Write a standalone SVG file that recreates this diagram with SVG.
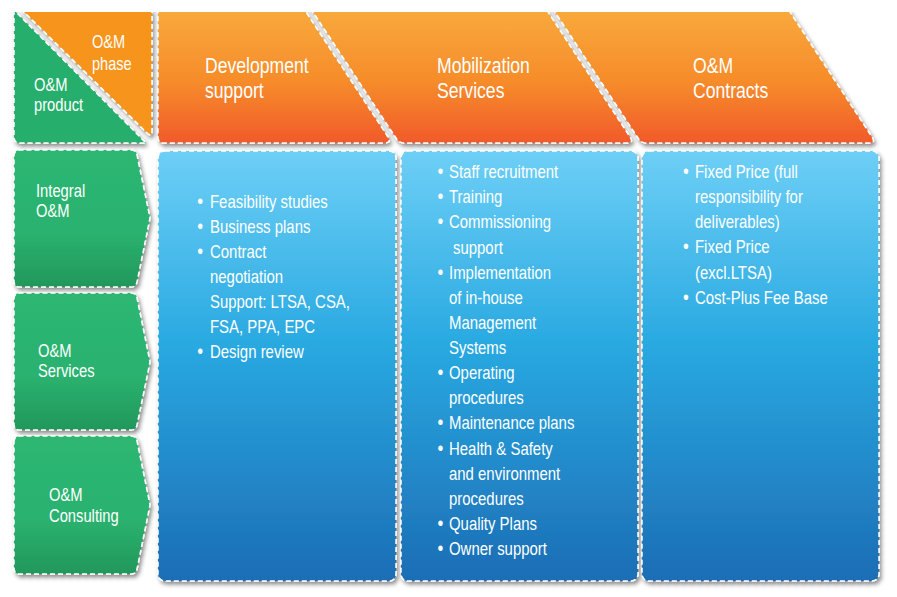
<svg xmlns="http://www.w3.org/2000/svg" width="897" height="597" viewBox="0 0 897 597">
<defs>
<linearGradient id="gOr" x1="0" y1="0" x2="0" y2="1">
<stop offset="0" stop-color="#f9ab3d"/><stop offset="0.55" stop-color="#f68c2a"/><stop offset="1" stop-color="#f15a29"/>
</linearGradient>
<linearGradient id="gGr" x1="0" y1="0" x2="0" y2="1">
<stop offset="0" stop-color="#2db673"/><stop offset="0.6" stop-color="#2bb26f"/><stop offset="1" stop-color="#21985b"/>
</linearGradient>
<linearGradient id="gBl" x1="0" y1="0" x2="0" y2="1">
<stop offset="0" stop-color="#6dcff6"/><stop offset="0.45" stop-color="#29a9e1"/><stop offset="1" stop-color="#1c6db5"/>
</linearGradient>
<filter id="sh" x="-10%" y="-10%" width="130%" height="130%">
<feDropShadow dx="2" dy="3" stdDeviation="2" flood-color="#000" flood-opacity="0.45"/>
</filter>
<clipPath id="topclip"><rect x="0" y="12" width="897" height="200"/></clipPath>
<style>
.box{stroke:#ffffff;stroke-width:1.5;stroke-dasharray:5 3;filter:url(#sh)}
.t{font-family:"Liberation Sans",Arial,sans-serif;fill:#ffffff}
.h{font-size:22px}
.l{font-size:18px}
.b{font-size:18px}
.d{font-size:20px}
</style>
</defs>
<rect width="897" height="597" fill="#ffffff"/>

<g clip-path="url(#topclip)">
<g id="corner">
<path class="box" fill="#27af6c" d="M14,10 L14,137 Q14,143 20,143 L146,143 Z"/>
<path class="box" fill="#f7941e" d="M22,10 L152,10 L152,131 Q152,138 147,133 Z"/>
<text class="t l" transform="translate(92,0) scale(0.81,1)"><tspan x="0" y="48">O&amp;M</tspan><tspan x="0" y="70">phase</tspan></text>
<text class="t l" transform="translate(34,0) scale(0.82,1)"><tspan x="0" y="91">O&amp;M</tspan><tspan x="0" y="111">product</tspan></text>
</g>
<g id="phase-contracts">
<path class="box" fill="url(#gOr)" d="M551,6 L786,6 L872,137 Q876,143 869,143 L646,143 Q641,143 638,138 Z"/>
<text class="t h" transform="translate(693,0) scale(0.80,1)"><tspan x="0" y="73">O&amp;M</tspan><tspan x="0" y="98">Contracts</tspan></text>
</g>
<g id="phase-mobilization">
<path class="box" fill="url(#gOr)" d="M309,6 L544,6 L630,137 Q634,143 627,143 L404,143 Q399,143 396,138 Z"/>
<text class="t h" transform="translate(437,0) scale(0.80,1)"><tspan x="0" y="73">Mobilization</tspan><tspan x="0" y="98">Services</tspan></text>
</g>
<g id="phase-development">
<path class="box" fill="url(#gOr)" d="M158,6 L302,6 L388,137 Q392,143 384,143 L164,143 Q158,143 158,137 Z"/>
<text class="t h" transform="translate(205,0) scale(0.80,1)"><tspan x="0" y="73">Development</tspan><tspan x="0" y="98">support</tspan></text>
</g>
</g>

<g id="product-integral">
<path class="box" fill="url(#gGr)" d="M14,156 Q14,150 20,150 L131,150 Q136,150 137,155 L150,218 L137,282 Q136,287 131,287 L20,287 Q14,287 14,281 Z"/>
<text class="t l" transform="translate(36,0) scale(0.82,1)"><tspan x="0" y="197">Integral</tspan><tspan x="0" y="217">O&amp;M</tspan></text>
</g>
<g id="product-services">
<path class="box" fill="url(#gGr)" d="M14,299 Q14,293 20,293 L131,293 Q136,293 137,298 L150,362 L137,425 Q136,430 131,430 L20,430 Q14,430 14,424 Z"/>
<text class="t l" transform="translate(38,0) scale(0.82,1)"><tspan x="0" y="357">O&amp;M</tspan><tspan x="0" y="377">Services</tspan></text>
</g>
<g id="product-consulting">
<path class="box" fill="url(#gGr)" d="M14,442 Q14,436 20,436 L131,436 Q136,436 137,441 L150,505 L137,569 Q136,574 131,574 L20,574 Q14,574 14,568 Z"/>
<text class="t l" transform="translate(49,0) scale(0.82,1)"><tspan x="0" y="501">O&amp;M</tspan><tspan x="0" y="522">Consulting</tspan></text>
</g>

<g id="col-development">
<rect class="box" x="158" y="151" width="238" height="430" rx="7" fill="url(#gBl)"/>
<g transform="translate(210,0) scale(0.83,1)">
<text class="t b"><tspan class="d" x="-15.5" y="208">•</tspan><tspan x="0" y="208">Feasibility studies</tspan></text>
<text class="t b"><tspan class="d" x="-15.5" y="233">•</tspan><tspan x="0" y="233">Business plans</tspan></text>
<text class="t b"><tspan class="d" x="-15.5" y="258">•</tspan><tspan x="0" y="258">Contract</tspan><tspan x="0" y="283">negotiation</tspan><tspan x="0" y="308">Support: LTSA, CSA,</tspan><tspan x="0" y="333">FSA, PPA, EPC</tspan></text>
<text class="t b"><tspan class="d" x="-15.5" y="358">•</tspan><tspan x="0" y="358">Design review</tspan></text>
</g>
</g>

<g id="col-mobilization">
<rect class="box" x="401" y="151" width="237" height="430" rx="7" fill="url(#gBl)"/>
<g transform="translate(449,0) scale(0.83,1)">
<text class="t b"><tspan class="d" x="-14" y="178">•</tspan><tspan x="0" y="178">Staff recruitment</tspan></text>
<text class="t b"><tspan class="d" x="-14" y="203">•</tspan><tspan x="0" y="203">Training</tspan></text>
<text class="t b"><tspan class="d" x="-14" y="228">•</tspan><tspan x="0" y="228">Commissioning</tspan><tspan x="4.8" y="254">support</tspan></text>
<text class="t b"><tspan class="d" x="-14" y="279">•</tspan><tspan x="0" y="279">Implementation</tspan><tspan x="0" y="304">of in-house</tspan><tspan x="0" y="329">Management</tspan><tspan x="0" y="354">Systems</tspan></text>
<text class="t b"><tspan class="d" x="-14" y="379">•</tspan><tspan x="0" y="379">Operating</tspan><tspan x="0" y="404">procedures</tspan></text>
<text class="t b"><tspan class="d" x="-14" y="429">•</tspan><tspan x="0" y="429">Maintenance plans</tspan></text>
<text class="t b"><tspan class="d" x="-14" y="455">•</tspan><tspan x="0" y="455">Health &amp; Safety</tspan><tspan x="0" y="480">and environment</tspan><tspan x="0" y="505">procedures</tspan></text>
<text class="t b"><tspan class="d" x="-14" y="530">•</tspan><tspan x="0" y="530">Quality Plans</tspan></text>
<text class="t b"><tspan class="d" x="-14" y="555">•</tspan><tspan x="0" y="555">Owner support</tspan></text>
</g>
</g>

<g id="col-contracts">
<rect class="box" x="642" y="151" width="237" height="430" rx="7" fill="url(#gBl)"/>
<g transform="translate(695,0) scale(0.83,1)">
<text class="t b"><tspan class="d" x="-14.5" y="178">•</tspan><tspan x="0" y="178">Fixed Price (full</tspan><tspan x="0" y="203">responsibility for</tspan><tspan x="0" y="228">deliverables)</tspan></text>
<text class="t b"><tspan class="d" x="-14.5" y="253">•</tspan><tspan x="0" y="253">Fixed Price</tspan><tspan x="0" y="279">(excl.LTSA)</tspan></text>
<text class="t b"><tspan class="d" x="-14.5" y="304">•</tspan><tspan x="0" y="304">Cost-Plus Fee Base</tspan></text>
</g>
</g>

<g id="connectors"></g>
</svg>
